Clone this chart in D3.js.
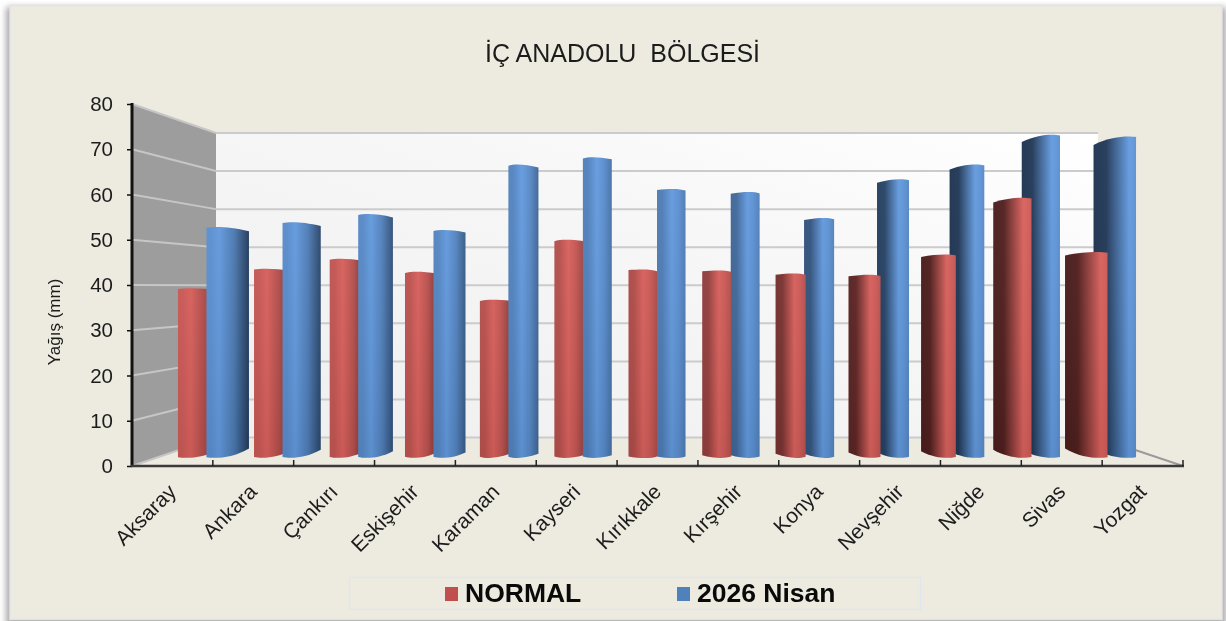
<!DOCTYPE html>
<html>
<head>
<meta charset="utf-8">
<script src="https://cdn.jsdelivr.net/npm/d3@7"></script>
<style>
html, body { margin: 0; padding: 0; background: #fff; overflow: hidden; }
svg { filter: blur(0.45px); }
text { font-family: "Liberation Sans", Arial, sans-serif; fill: #1c1c1c; }
</style>
</head>
<body>
<div id="chart"></div>
<script>
// Values
const cities = ["Aksaray", "Ankara", "Çankırı", "Eskişehir", "Karaman", "Kayseri", "Kırıkkale", "Kırşehir", "Konya", "Nevşehir", "Niğde", "Sivas", "Yozgat"];
const normal = [39.4, 43.9, 46.2, 43.2, 36.7, 50.6, 43.7, 43.5, 42.8, 42.5, 47.2, 60.4, 47.8];
const nisan = [53.6, 54.7, 56.6, 52.9, 68.1, 69.8, 62.4, 61.7, 55.7, 64.7, 68.1, 75.0, 74.6];
const yTicks = [0, 10, 20, 30, 40, 50, 60, 70, 80];
const seriesNames = ["NORMAL", "2026 Nisan"];

const width = 1226;
const height = 621;

const svg = d3.select("#chart")
    .append("svg")
    .attr("width", width)
    .attr("height", height);
const defs = svg.append("defs");

// Panel with its soft shadow
defs.append("filter").attr("id", "soft")
    .attr("x", "-5%").attr("y", "-5%").attr("width", "110%").attr("height", "110%")
    .append("feGaussianBlur").attr("stdDeviation", 3);

svg.append("rect")
    .attr("x", 6).attr("y", 7).attr("width", 1220).attr("height", 620)
    .attr("fill", "#a8a8a8")
    .attr("filter", "url(#soft)");
svg.append("rect")
    .attr("x", 10).attr("y", 5.5).attr("width", 1212).attr("height", 614)
    .attr("fill", "#edeae0")
    .attr("stroke", "#e6e1e8")
    .attr("stroke-width", 1.5);

// Scales: front plane, back wall, and the plane the bars stand on
const yFront = d3.scaleLinear().domain([0, 80]).range([466, 104]);
const yBack = d3.scaleLinear().domain([0, 80]).range([437.5, 133]);
const yBar = d3.scaleLinear().domain([0, 80]).range([458, 113]);
const xFront = d3.scaleBand().domain(cities).range([132, 1183]);
const xBars = d3.scaleBand().domain(cities).range([176.5, 1137.5]);
const wallLeft = 216;
const wallRight = 1098;

// Walls
const wallGrad = defs.append("linearGradient").attr("id", "wallGrad")
    .attr("x1", "0").attr("y1", "1").attr("x2", "1").attr("y2", "0");
wallGrad.append("stop").attr("offset", "0").attr("stop-color", "#efeff0");
wallGrad.append("stop").attr("offset", "0.55").attr("stop-color", "#f6f6f6");
wallGrad.append("stop").attr("offset", "1").attr("stop-color", "#ffffff");

svg.append("rect")
    .attr("x", wallLeft).attr("y", yBack(80))
    .attr("width", wallRight - wallLeft).attr("height", yBack(0) - yBack(80))
    .attr("fill", "url(#wallGrad)");
svg.append("path")
    .attr("d", `M132,${yFront(80)}L${wallLeft},${yBack(80)}L${wallLeft},${yBack(0)}L132,${yFront(0)}Z`)
    .attr("fill", "#9d9d9d");

// Gridlines on both walls
svg.selectAll("line.back")
    .data(yTicks)
    .enter()
    .append("line")
    .attr("class", "back")
    .attr("x1", wallLeft).attr("x2", wallRight)
    .attr("y1", d => yBack(d)).attr("y2", d => yBack(d))
    .attr("stroke", "#cbcbcb")
    .attr("stroke-width", 2);
svg.selectAll("line.side")
    .data(yTicks)
    .enter()
    .append("line")
    .attr("class", "side")
    .attr("x1", 132).attr("x2", wallLeft)
    .attr("y1", d => yFront(d)).attr("y2", d => yBack(d))
    .attr("stroke", "#c6c6c6")
    .attr("stroke-width", 2);

// Right floor edge
svg.append("line")
    .attr("x1", wallRight).attr("y1", yBack(0))
    .attr("x2", 1183).attr("y2", yFront(0))
    .attr("stroke", "#9a9a9a")
    .attr("stroke-width", 2);

// Bars: the cylinders turn with their distance from the chart centre
const centre = xBars("Kırıkkale") + xBars.step() / 2;
const reach = xBars.step() * 6;
const baseWidth = 28.5;

function mixColor(light, dark, t) {
    return d3.interpolateRgb(light, dark)(Math.max(0, Math.min(1, t)));
}

function barShape(x0, x1, top, bottom, s) {
    const w = x1 - x0;
    const tilt = Math.abs(s);
    // taller bars show more of their top ellipse
    const rise = Math.pow((bottom - top) / 320, 2);
    const lowEnd = (1.5 + 7 * tilt) * rise;
    const rim = 0.8 + 0.8 * (1 - tilt);
    const bot = 1.5 + 8 * tilt;
    if (s < 0) {
        return `M${x0},${top + rim}C${x0 + w * 0.2},${top - 0.4} ${x0 + w * 0.55},${top - 0.4} ${x1},${top + lowEnd}`
            + `L${x1},${bottom - bot}C${x0 + w * 0.6},${bottom + 0.6} ${x0 + w * 0.2},${bottom + 0.6} ${x0},${bottom - rim}Z`;
    }
    return `M${x0},${top + lowEnd}C${x0 + w * 0.45},${top - 0.4} ${x0 + w * 0.8},${top - 0.4} ${x1},${top + rim}`
        + `L${x1},${bottom - rim}C${x0 + w * 0.8},${bottom + 0.6} ${x0 + w * 0.4},${bottom + 0.6} ${x0},${bottom - bot}Z`;
}

function barGradient(id, light, dark, s) {
    const peak = s < 0 ? 0.52 + 0.22 * s : 0.52 + 0.32 * s;
    const darkLeft = s < 0 ? 0.3 + 0.2 * s : 0.3 + 0.7 * Math.min(1, s * 1.7);
    const darkRight = s < 0 ? 0.3 - 0.62 * s : 0.3 - 0.2 * s;
    const grad = defs.append("linearGradient").attr("id", id);
    grad.append("stop").attr("offset", 0).attr("stop-color", mixColor(light, dark, darkLeft));
    grad.append("stop").attr("offset", peak * 0.35).attr("stop-color", mixColor(light, dark, darkLeft * 0.95));
    grad.append("stop").attr("offset", peak).attr("stop-color", light);
    grad.append("stop").attr("offset", peak + (1 - peak) * 0.5).attr("stop-color", mixColor(light, dark, darkRight * 0.35));
    grad.append("stop").attr("offset", 1).attr("stop-color", mixColor(light, dark, darkRight));
}

const sheen = defs.append("linearGradient").attr("id", "sheen")
    .attr("gradientUnits", "userSpaceOnUse")
    .attr("x1", 0).attr("x2", 0).attr("y1", 130).attr("y2", 458);
sheen.append("stop").attr("offset", 0).attr("stop-color", "#fff").attr("stop-opacity", 0.04);
sheen.append("stop").attr("offset", 1).attr("stop-color", "#000").attr("stop-opacity", 0.08);

const barsLayer = svg.append("g");

function drawBar(city, i, value, side) {
    const c = xBars(city) + xBars.step() / 2;
    const s = (c - centre) / reach;
    const w = baseWidth + 14 * s * s;
    const half = baseWidth + 7 * s * s;
    const x0 = side === 0 ? c - half : c + half - w;
    const x1 = x0 + w;
    const id = `bar${side}-${i}`;
    if (side === 0) barGradient(id, "#dc625e", "#4a1d1c", s);
    else barGradient(id, "#639be0", "#1d3350", s);
    const d = barShape(x0, x1, yBar(value), yBar(0), s);
    barsLayer.append("path").attr("d", d).attr("fill", `url(#${id})`);
    barsLayer.append("path").attr("d", d).attr("fill", "url(#sheen)");
}

cities.forEach((city, i) => {
    const c = xBars(city) + xBars.step() / 2;
    if (c <= centre) {
        drawBar(city, i, normal[i], 0);
        drawBar(city, i, nisan[i], 1);
    } else {
        drawBar(city, i, nisan[i], 1);
        drawBar(city, i, normal[i], 0);
    }
});

// Y axis
const yAxis = d3.axisLeft(yFront)
    .tickValues(yTicks)
    .tickSize(5)
    .tickPadding(14);
const yG = svg.append("g")
    .attr("transform", "translate(132,0)")
    .call(yAxis);
yG.select(".domain").attr("stroke", "#111").attr("stroke-width", 3).attr("d", "M0,103V467");
yG.selectAll(".tick line").attr("stroke", "#111").attr("stroke-width", 1.5);
yG.selectAll("text").style("font-size", "20.5px").style("font-family", null).attr("fill", null);

// X axis line with its upward ticks
svg.append("line")
    .attr("x1", 131).attr("x2", 1184)
    .attr("y1", yFront(0)).attr("y2", yFront(0))
    .attr("stroke", "#3a3a3a")
    .attr("stroke-width", 2.5);
svg.selectAll("line.xtick")
    .data(cities.slice(1).concat("end"))
    .enter()
    .append("line")
    .attr("class", "xtick")
    .attr("x1", d => d === "end" ? xFront.range()[1] : xFront(d))
    .attr("x2", d => d === "end" ? xFront.range()[1] : xFront(d))
    .attr("y1", 460).attr("y2", 466)
    .attr("stroke", "#222")
    .attr("stroke-width", 1.5);

// City labels
svg.selectAll("text.city")
    .data(cities)
    .enter()
    .append("text")
    .attr("class", "city")
    .attr("transform", d => `translate(${xFront(d) + xFront.bandwidth() / 2 + 5},493) rotate(-45)`)
    .attr("text-anchor", "end")
    .style("font-size", "21px")
    .text(d => d);

// Titles
svg.append("text")
    .attr("x", 622.5).attr("y", 62)
    .attr("text-anchor", "middle")
    .style("font-size", "25px")
    .style("white-space", "pre")
    .text("İÇ ANADOLU  BÖLGESİ");

svg.append("text")
    .attr("transform", "translate(60,322) rotate(-90)")
    .attr("text-anchor", "middle")
    .style("font-size", "17px")
    .text("Yağış (mm)");

// Legend
svg.append("rect")
    .attr("x", 349.5).attr("y", 577.5).attr("width", 571).attr("height", 32)
    .attr("fill", "none")
    .attr("stroke", "#dde7f0")
    .attr("stroke-width", 1.2);

const legendX = [445, 677];
const legendColors = ["#c0504d", "#4f81bd"];
seriesNames.forEach((name, i) => {
    svg.append("rect")
        .attr("x", legendX[i]).attr("y", 587).attr("width", 13).attr("height", 14)
        .attr("fill", legendColors[i]);
    svg.append("text")
        .attr("x", legendX[i] + 20).attr("y", 602)
        .style("font-size", "26.5px")
        .style("font-weight", "bold")
        .style("fill", "#0a0a0a")
        .text(name);
});
</script>
</body>
</html>
